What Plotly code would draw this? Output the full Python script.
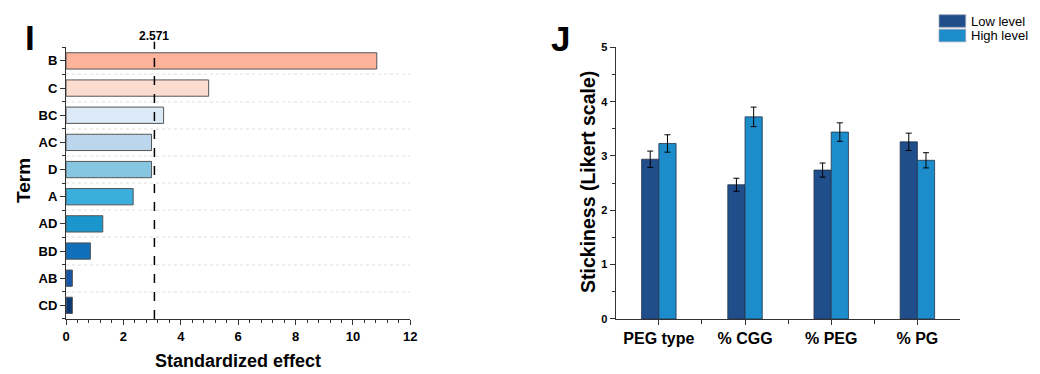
import plotly.graph_objects as go

# ---- Panel I data ----
terms = ["B", "C", "BC", "AC", "D", "A", "AD", "BD", "AB", "CD"]
effects = [10.83, 4.97, 3.40, 2.98, 2.98, 2.34, 1.28, 0.85, 0.22, 0.22]
term_colors = ["#FCB399", "#FDDCD0", "#DCE9F6", "#BCD6EE", "#86C6E0",
               "#3CAEDD", "#1A96CD", "#0F6FBA", "#1656A8", "#0B3873"]
threshold_x = 3.08
threshold_label = "2.571"
x_ticks_I = [0, 2, 4, 6, 8, 10, 12]

# ---- Panel J data ----
factors = ["PEG type", "% CGG", "% PEG", "% PG"]
series_names = ["Low level", "High level"]
low_vals = [2.94, 2.47, 2.74, 3.26]
low_err = [0.15, 0.12, 0.13, 0.16]
high_vals = [3.23, 3.72, 3.44, 2.92]
high_err = [0.16, 0.18, 0.17, 0.14]
y_ticks_J = [0, 1, 2, 3, 4, 5]

FONT = "Liberation Sans, Arial, sans-serif"
H = 374
W = 1040
LOW_C = "#1F4E8A"
HIGH_C = "#1C8CCB"

fig = go.Figure()

pos_I = list(range(len(terms)))
fig.add_trace(go.Bar(
    x=effects, y=pos_I, orientation="h", width=0.6,
    marker=dict(color=term_colors, line=dict(color="#555555", width=1)),
    showlegend=False, xaxis="x", yaxis="y"))

pos_J = list(range(len(factors)))
fig.add_trace(go.Bar(
    x=pos_J, y=low_vals, name=series_names[0], showlegend=False,
    marker=dict(color=LOW_C, line=dict(color="#26334a", width=0.8)),
    error_y=dict(type="data", array=low_err, color="black", thickness=1, width=3),
    xaxis="x2", yaxis="y2"))
fig.add_trace(go.Bar(
    x=pos_J, y=high_vals, name=series_names[1], showlegend=False,
    marker=dict(color=HIGH_C, line=dict(color="#26334a", width=0.8)),
    error_y=dict(type="data", array=high_err, color="black", thickness=1, width=3),
    xaxis="x2", yaxis="y2"))

ydom = [1 - 323.3 / H, 1 - 42.7 / H]
AX = dict(showline=True, linecolor="#333", linewidth=1.2, ticks="outside", ticklen=5,
          tickcolor="#333", showgrid=False, zeroline=False)

fig.update_layout(
    width=W, height=H, margin=dict(l=0, r=0, t=0, b=0),
    paper_bgcolor="white", plot_bgcolor="white",
    font=dict(family=FONT, color="black"),
    barmode="group", bargap=0.6, bargroupgap=0, showlegend=False,
    xaxis=dict(domain=[62.7 / W, 410.7 / W], range=[0, 12], tickvals=x_ticks_I,
               minor=dict(dtick=0.4, ticks="outside", ticklen=3, tickcolor="#333"),
               tickfont=dict(size=13, family=FONT, weight="bold"), **AX),
    yaxis=dict(domain=ydom, range=[9.5, -0.5], tickvals=pos_I, ticktext=terms,
               minor=dict(tickvals=[i + 0.5 for i in range(-1, len(terms))],
                          ticks="outside", ticklen=3, tickcolor="#333",
                          showgrid=True, gridcolor="#eeeeee", griddash="dot", gridwidth=1.5),
               tickfont=dict(size=13, family=FONT, weight="bold"), **AX),
    xaxis2=dict(domain=[618.3 / W, 966.7 / W], range=[-0.5, 3.5], tickvals=pos_J, ticktext=factors,
                minor=dict(tickvals=[0.5, 1.5, 2.5], ticks="outside", ticklen=4, tickcolor="#333"),
                tickfont=dict(size=16, family=FONT, weight="bold"), **AX),
    yaxis2=dict(domain=ydom, range=[0, 5], tickvals=y_ticks_J, anchor="x2",
                minor=dict(dtick=0.5, ticks="outside", ticklen=3, tickcolor="#333"),
                tickfont=dict(size=11, family=FONT, weight="bold"), **AX),
)

# threshold line and label
fig.add_shape(type="line", xref="x", yref="paper", x0=threshold_x, x1=threshold_x,
              y0=ydom[0], y1=1 - 37 / H, line=dict(color="black", width=1.5, dash="dash"))
fig.add_annotation(x=threshold_x, xref="x", y=1 - 31 / H, yref="paper", text=threshold_label,
                   showarrow=False, font=dict(size=12, weight="bold"), xanchor="center", yanchor="middle")

# axis titles
fig.add_annotation(x=237 / W, y=1 - 367 / H, xref="paper", yref="paper", text="Standardized effect",
                   showarrow=False, font=dict(size=18, weight="bold"), xanchor="center", yanchor="middle")
fig.add_annotation(x=19 / W, y=1 - 180 / H, xref="paper", yref="paper", text="Term", textangle=-90,
                   showarrow=False, font=dict(size=19, weight="bold"), xanchor="center", yanchor="middle")
fig.add_annotation(x=590 / W, y=1 - 182 / H, xref="paper", yref="paper", text="Stickiness (Likert scale)",
                   textangle=-90, showarrow=False, font=dict(size=19.5, weight="bold"),
                   xanchor="center", yanchor="middle")

# panel letters
fig.add_annotation(x=26 / W, y=1 - 33 / H, xref="paper", yref="paper", text="I", showarrow=False,
                   font=dict(size=35, weight="bold", family="Liberation Sans"), xanchor="center", yanchor="middle")
fig.add_annotation(x=562 / W, y=1 - 34 / H, xref="paper", yref="paper", text="J", showarrow=False,
                   font=dict(size=35, weight="bold", family="Liberation Sans"), xanchor="center", yanchor="middle")

# legend (manual)
for i, (nm, col) in enumerate(zip(series_names, [LOW_C, HIGH_C])):
    y0 = 9 + i * 15
    fig.add_shape(type="rect", xref="paper", yref="paper",
                  x0=945 / W, x1=972 / W, y0=1 - (y0 + 13) / H, y1=1 - y0 / H,
                  fillcolor=col, line=dict(color="#9aa6b6", width=0.8))
    fig.add_annotation(x=975 / W, y=1 - (y0 + 6.5) / H, xref="paper", yref="paper", text=nm,
                       showarrow=False, font=dict(size=13), xanchor="left", yanchor="middle")

fig.write_html("out.html")
